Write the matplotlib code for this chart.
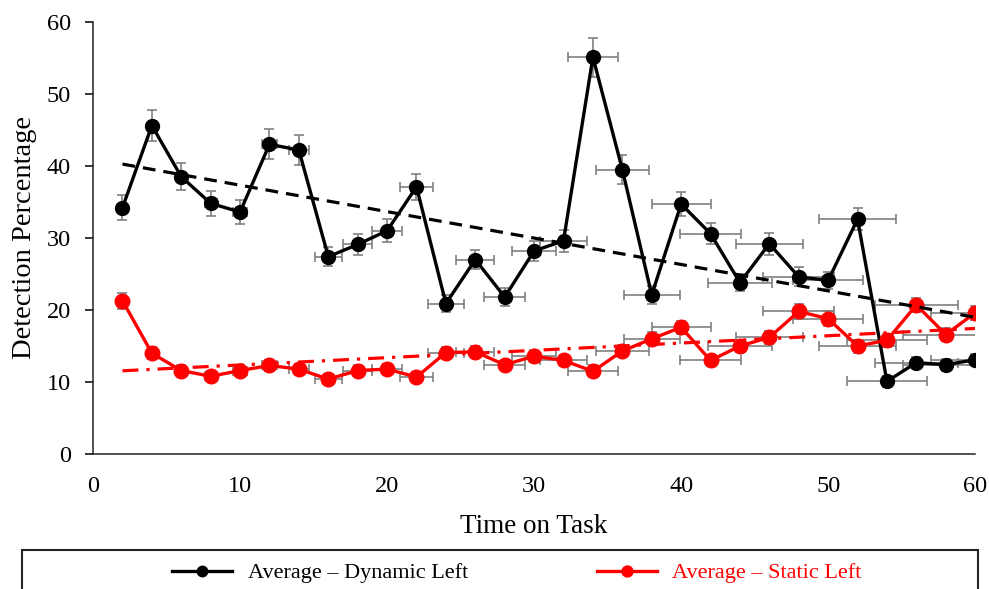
import numpy as np
import matplotlib
matplotlib.use("Agg")
import matplotlib.pyplot as plt
from matplotlib.patches import Rectangle

plt.rcParams['font.family'] = ['Liberation Serif', 'DejaVu Serif']

# Data
time_on_task = [2, 4, 6, 8, 10, 12, 14, 16, 18, 20, 22, 24, 26, 28, 30,
                32, 34, 36, 38, 40, 42, 44, 46, 48, 50, 52, 54, 56, 58, 60]
dynamic_left = [34.2, 45.6, 38.5, 34.8, 33.6, 43.0, 42.2, 27.4, 29.1, 31.0,
                37.1, 20.9, 27.0, 21.8, 28.2, 29.6, 55.1, 39.5, 22.1, 34.7,
                30.6, 23.8, 29.2, 24.6, 24.1, 32.6, 10.1, 12.7, 12.4, 13.1]
static_left = [21.3, 14.0, 11.6, 10.8, 11.6, 12.3, 11.8, 10.4, 11.6, 11.8,
               10.7, 14.1, 14.2, 12.4, 13.6, 13.0, 11.5, 14.3, 16.0, 17.6,
               13.0, 15.0, 16.2, 19.8, 18.8, 15.0, 15.8, 20.7, 16.6, 19.6]
dynamic_yerr = [1.7, 2.2, 1.9, 1.7, 1.7, 2.1, 2.1, 1.3, 1.5, 1.6,
                1.8, 1.2, 1.3, 1.2, 1.4, 1.5, 2.7, 2.0, 1.3, 1.7,
                1.5, 1.2, 1.5, 1.3, 1.2, 1.5, 0.8, 0.8, 0.8, 0.8]
static_yerr = [1.1, 0.8, 0.7, 0.7, 0.7, 0.7, 0.7, 0.7, 0.7, 0.7,
               0.7, 0.8, 0.8, 0.7, 0.8, 0.8, 0.8, 0.8, 0.9, 0.9,
               0.8, 0.8, 0.9, 1.0, 1.0, 0.9, 0.9, 1.0, 0.9, 1.0]
time_xerr = [0.1, 0.2, 0.3, 0.4, 0.5, 0.5, 0.7, 0.9, 1.0, 1.0,
             1.1, 1.2, 1.3, 1.4, 1.5, 1.6, 1.7, 1.8, 1.9, 2.0,
             2.1, 2.2, 2.3, 2.4, 2.4, 2.6, 2.7, 2.8, 2.9, 3.0]

x = np.array(time_on_task)

fig = plt.figure(figsize=(9.9, 5.89), dpi=100)
ax = fig.add_axes([0.094, 0.229, 0.891, 0.734])

err_kw = dict(fmt='none', ecolor='#808080', elinewidth=1.2, capsize=3.5,
              capthick=1.2, zorder=3)
ax.errorbar(x, dynamic_left, yerr=dynamic_yerr, xerr=time_xerr, **err_kw)
ax.errorbar(x, static_left, yerr=static_yerr, xerr=time_xerr, **err_kw)

ax.plot(x, dynamic_left, color='black', lw=2.4, marker='o', ms=10,
        zorder=4, label='Average \u2013 Dynamic Left')
ax.plot(x, static_left, color='#ff0000', lw=2.4, marker='o', ms=10.5,
        zorder=4, label='Average \u2013 Static Left')

# linear trendlines
xt = np.array([x.min(), x.max()])
k, b = np.polyfit(x, dynamic_left, 1)
ax.plot(xt, k * xt + b, color='black', lw=2.3, dashes=(4, 2.5), zorder=5)
k, b = np.polyfit(x, static_left, 1)
ax.plot(xt, k * xt + b, color='#ff0000', lw=2.3, dashes=(5, 2.5, 1, 2.5), zorder=5)

ax.set_xlim(0, 60)
ax.set_ylim(0, 60)
ax.set_xticks(range(0, 61, 10))
ax.set_xticks([0, 60], minor=True)
ax.set_yticks(range(0, 61, 10))
ax.tick_params(axis='x', which='major', length=0, pad=16, labelsize=17.5)
ax.tick_params(axis='x', which='minor', length=6, width=1.1, direction='out')
ax.tick_params(axis='y', length=6, width=1.1, pad=10, labelsize=17.5)

for s in ['top', 'right']:
    ax.spines[s].set_visible(False)
for s in ['left', 'bottom']:
    ax.spines[s].set_linewidth(1.1)
    ax.spines[s].set_color('#222222')

ax.set_xlabel('Time on Task', fontsize=19.5, labelpad=12)
ax.set_ylabel('Detection Percentage', fontsize=20.5, labelpad=7)

# legend box running off the bottom edge
fig.patches.append(Rectangle((0.022, -0.05), 0.966, 0.116, transform=fig.transFigure,
                             fill=False, edgecolor='#222222', lw=1.5))
leg = fig.legend(loc='center', bbox_to_anchor=(0.522, 0.027), ncol=2, frameon=False,
                 fontsize=16, handlelength=2.7, handletextpad=0.7,
                 columnspacing=5.8, markerscale=0.75)
leg.get_texts()[1].set_color('#ff0000')

fig.savefig('out.png', dpi=100)
